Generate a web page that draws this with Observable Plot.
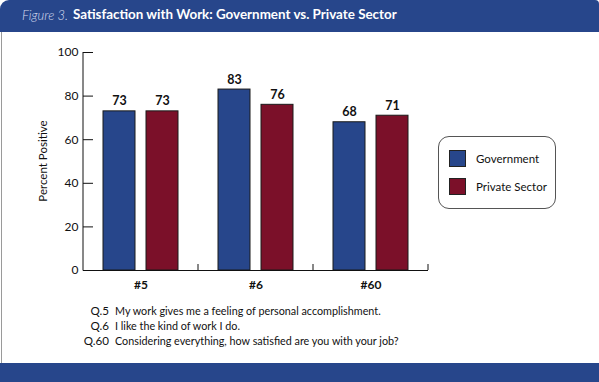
<!DOCTYPE html>
<html>
<head>
<meta charset="utf-8">
<script src="https://cdn.jsdelivr.net/npm/d3@7"></script>
<script src="https://cdn.jsdelivr.net/npm/@observablehq/plot@0.6"></script>
<style>
  html, body { margin: 0; padding: 0; background: #fff; }
  #page { position: relative; width: 599px; height: 382px; overflow: hidden; background: #fff;
          font-family: Lato, "Open Sans", sans-serif; }
  #header { position: absolute; left: 0; top: 0; width: 599px; height: 32px; background: #27468b;
            border-radius: 9px 4px 0 0; color: #fff; white-space: nowrap; }
  #header .fig { position: absolute; left: 22px; top: 7px; font-size: 13px; font-style: italic; font-weight: 300; color: #d4dbef; }
  #header .ttl { position: absolute; left: 73px; top: 6px; font-size: 13.4px; font-weight: bold; color: #fff; }
  #leftline { position: absolute; left: 1px; top: 32px; width: 1px; height: 331px; background: #9a9a9a; }
  #footer { position: absolute; left: 0; top: 363px; width: 599px; height: 19px; background: #27468b; }
  #chart { position: absolute; left: 0; top: 32px; }
  #legend { position: absolute; left: 438px; top: 136px; width: 118px; height: 73px; border: 1px solid #555;
            border-radius: 11px; box-sizing: border-box; }
  .sw { position: absolute; left: 10px; width: 17px; height: 17px; box-sizing: border-box; border: 1px solid #222; }
  .lt { position: absolute; left: 37px; font-size: 11.5px; color: #111; line-height: 14px; white-space: nowrap; }
  .note { position: absolute; font-size: 11.6px; color: #111; line-height: 14px; white-space: nowrap;
          transform-origin: 0 50%; }
  .qn { text-align: right; width: 40px; left: 69px; }
  .qt { left: 115px; transform: scaleX(0.93); }
</style>
</head>
<body>
<div id="page">
  <div id="header"><span class="fig">Figure 3.</span><span class="ttl">Satisfaction with Work: Government vs. Private Sector</span></div>
  <div id="leftline"></div>
  <div id="chart"></div>
  <div id="legend"></div>
  <div id="notes"></div>
  <div id="footer"></div>
</div>
<script>
const questions = ["#5", "#6", "#60"];
const seriesNames = ["Government", "Private Sector"];
const government = [73, 83, 68];
const privateSector = [73, 76, 71];
const seriesColors = ["#27468b", "#7b1029"];
const yTicks = [0, 20, 40, 60, 80, 100];
const noteNumbers = ["Q.5", "Q.6", "Q.60"];
const noteTexts = [
  "My work gives me a feeling of personal accomplishment.",
  "I like the kind of work I do.",
  "Considering everything, how satisfied are you with your job?"
];

const data = [];
questions.forEach((q, i) => {
  data.push({q, series: seriesNames[0], value: government[i]});
  data.push({q, series: seriesNames[1], value: privateSector[i]});
});

const font = 'Lato, "Open Sans", sans-serif';

const plot = Plot.plot({
  width: 599,
  height: 270,
  marginLeft: 82,
  marginRight: 171,
  marginTop: 20,
  marginBottom: 32,
  style: {fontFamily: font, fontSize: "12px", color: "#111", background: "transparent"},
  fx: {domain: questions, paddingInner: 0, paddingOuter: 0, label: null},
  x: {domain: seriesNames, paddingInner: 0.25, paddingOuter: 0.432, axis: null},
  y: {domain: [0, 100], label: null},
  color: {domain: seriesNames, range: seriesColors},
  marks: [
    Plot.barY(data, {fx: "q", x: "series", y: "value", fill: "series", stroke: "#1a1a1a", strokeWidth: 1}),
    Plot.text(data, {fx: "q", x: "series", y: "value", text: d => String(d.value), lineAnchor: "bottom", dy: -6,
                     fontWeight: "bold", fontSize: 12.5, fill: "#111"}),
    Plot.ruleY([0], {stroke: "#111", strokeWidth: 1}),
    Plot.axisY({ticks: yTicks, tickSize: -10, tickPadding: 15, fontSize: 12, label: null, stroke: "#111"}),
    Plot.axisFx({anchor: "bottom", tickSize: 0, tickPadding: 10, fontWeight: "bold", fontSize: 12, label: null})
  ]
});

document.getElementById("chart").appendChild(plot);

// axis lines and category boundary ticks using the plot's own scales
const fx = plot.scale("fx");
const y = plot.scale("y");
const svg = d3.select(plot);
const y0 = y.apply(0), y100 = y.apply(100);
const leftX = fx.apply(questions[0]);
svg.append("line").attr("x1", leftX).attr("x2", leftX).attr("y1", y0 + 0.5).attr("y2", y100)
  .attr("stroke", "#111").attr("stroke-width", 1);
questions.forEach(q => {
  const xr = fx.apply(q) + fx.bandwidth;
  svg.append("line").attr("x1", xr).attr("x2", xr).attr("y1", y0).attr("y2", y0 - 6)
    .attr("stroke", "#111").attr("stroke-width", 1);
});
// y axis title
svg.append("text").attr("transform", `translate(47,${(y0 + y100) / 2}) rotate(-90)`)
  .attr("text-anchor", "middle").attr("font-size", 11.5).attr("fill", "#111").text("Percent Positive");

// legend
const legend = document.getElementById("legend");
seriesNames.forEach((s, i) => {
  const sw = document.createElement("div");
  sw.className = "sw"; sw.style.top = (13 + i * 28) + "px"; sw.style.background = seriesColors[i];
  legend.appendChild(sw);
  const t = document.createElement("div");
  t.className = "lt"; t.style.top = (15 + i * 28) + "px"; t.textContent = s;
  legend.appendChild(t);
});

// notes
const notes = document.getElementById("notes");
noteNumbers.forEach((n, i) => {
  const a = document.createElement("div");
  a.className = "note qn"; a.style.top = (304 + i * 15) + "px"; a.textContent = n;
  notes.appendChild(a);
  const b = document.createElement("div");
  b.className = "note qt"; b.style.top = (304 + i * 15) + "px"; b.textContent = noteTexts[i];
  notes.appendChild(b);
});
</script>
</body>
</html>
